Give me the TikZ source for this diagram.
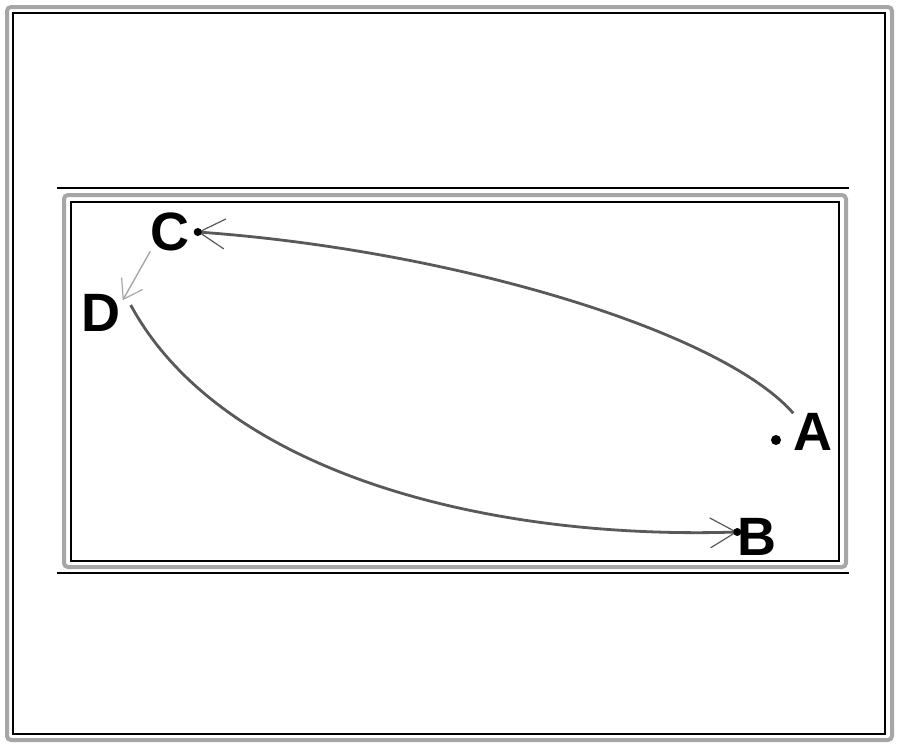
\documentclass[tikz,border=0pt]{standalone}
\usepackage{fontspec}
\setmainfont{Liberation Sans}
\usetikzlibrary{arrows.meta}
\begin{document}
\begin{tikzpicture}[x=1pt,y=-1pt,
  lbl/.style={inner sep=0pt,font=\fontsize{54}{54}\selectfont\bfseries},
  grayframe/.style={draw=gray!70,line width=4pt,rounded corners=4pt},
  thinframe/.style={draw=black,line width=1.2pt},
  curve/.style={draw=gray!70!black,line width=2.8pt},
  thincurve/.style={draw=gray!70,line width=1.4pt},
  bigtip/.style={-{Straight Barb[length=26pt,width=30pt,line width=1.2pt]}},
  smalltip/.style={-{Straight Barb[length=18pt,width=24pt,line width=1.2pt]}}
]
\useasboundingbox (0,0) rectangle (900,747);
\fill[white] (0,0) rectangle (900,747);
% outer frame
\draw[grayframe] (7,7) rectangle (892,740);
\draw[thinframe] (13,13) rectangle (885,734);
% inner frame
\draw[thinframe] (57,188) -- (849,188);
\draw[thinframe] (57,573) -- (849,573);
\draw[grayframe] (64,195) rectangle (846,567);
\draw[thinframe] (71,202) rectangle (839,561);
% labels
\node[lbl] (A) at (813,432) {A};
\node[lbl] (B) at (757,537) {B};
\node[lbl] (C) at (170,232) {C};
\node[lbl] (D) at (101,313) {D};
\fill[black] (776,440) circle (5pt);
% connectors
\draw[curve,bigtip] (A.north west) .. controls (720,330) and (450,250) .. ([xshift=8pt]C.east);
\fill[black] ([xshift=8pt]C.east) circle (4pt);
\draw[thincurve,smalltip] (C.south west) -- ([shift={(2pt,-6pt)}]D.north east);
\draw[curve,bigtip] ([xshift=10pt,yshift=8pt]D.east) .. controls (220,470) and (480,540) .. ([yshift=5pt]B.west);
\fill[black] ([yshift=5pt]B.west) circle (4pt);
\end{tikzpicture}
\end{document}
